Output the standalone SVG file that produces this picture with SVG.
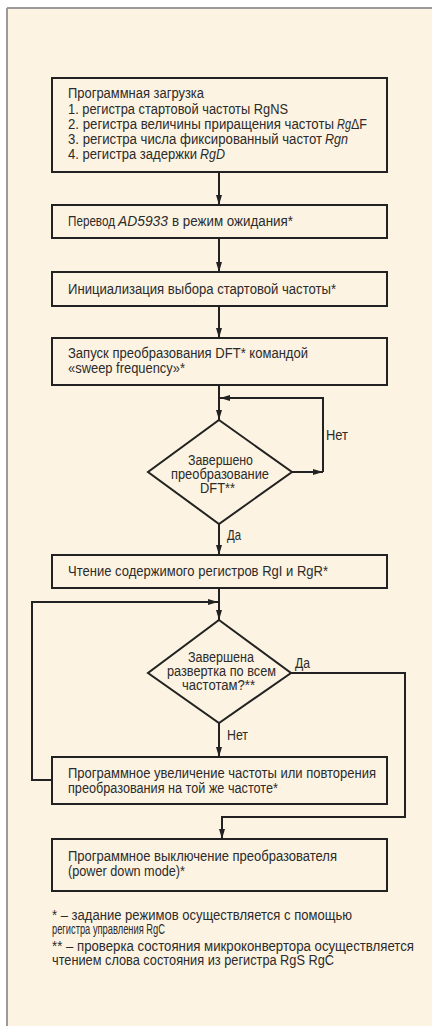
<svg xmlns="http://www.w3.org/2000/svg" width="432" height="1026" viewBox="0 0 432 1026">
<defs>
<marker id="ah" viewBox="0 0 10 6" refX="10" refY="3" markerWidth="10" markerHeight="6" orient="auto" markerUnits="userSpaceOnUse">
<path d="M0,0 L10,3 L0,6 z" fill="#222"/>
</marker>
<style>
.box{fill:none;stroke:#222;stroke-width:2}
.ln{fill:none;stroke:#222;stroke-width:2}
text{font-family:"Liberation Sans",Arial,sans-serif;font-size:14px;fill:#2b2b2b}
.it{font-style:italic}
</style>
</defs>
<rect x="0" y="0" width="432" height="1026" fill="#ffffff"/>
<rect x="7" y="8" width="430" height="1030" fill="#fdf3e2"/>
<line x1="7" y1="8" x2="432" y2="8" stroke="#9a9a9a" stroke-width="2"/>
<line x1="7" y1="8" x2="7" y2="1026" stroke="#9a9a9a" stroke-width="2"/>

<g id="connectors">
<line class="ln" x1="219" y1="172" x2="219" y2="205" marker-end="url(#ah)"/>
<line class="ln" x1="219" y1="238" x2="219" y2="272" marker-end="url(#ah)"/>
<line class="ln" x1="219" y1="306" x2="219" y2="338" marker-end="url(#ah)"/>
<line class="ln" x1="219" y1="385" x2="219" y2="420" marker-end="url(#ah)"/>
<line class="ln" x1="292" y1="472" x2="323" y2="472" marker-end="url(#ah)"/>
<polyline class="ln" points="323,472 323,398 220,398" marker-end="url(#ah)"/>
<line class="ln" x1="219" y1="524" x2="219" y2="555" marker-end="url(#ah)"/>
<line class="ln" x1="219" y1="588" x2="219" y2="620" marker-end="url(#ah)"/>
<polyline class="ln" points="52,780 32,780 32,602 218,602" marker-end="url(#ah)"/>
<line class="ln" x1="219" y1="723" x2="219" y2="757" marker-end="url(#ah)"/>
<polyline class="ln" points="291,673 405,673 405,817 222,817 222,839" marker-end="url(#ah)"/>
<text x="326" y="440" textLength="22" lengthAdjust="spacingAndGlyphs">Нет</text>
<text x="227" y="540" textLength="14" lengthAdjust="spacingAndGlyphs">Да</text>
<text x="295" y="668" textLength="15" lengthAdjust="spacingAndGlyphs">Да</text>
<text x="227" y="740" textLength="21" lengthAdjust="spacingAndGlyphs">Нет</text>
</g>

<g id="n1">
<rect class="box" x="52" y="78" width="335" height="94"/>
<text x="68" y="98" textLength="136" lengthAdjust="spacingAndGlyphs">Программная загрузка</text>
<text x="68" y="114" textLength="220" lengthAdjust="spacingAndGlyphs">1. регистра стартовой частоты RgNS</text>
<text x="68" y="129" textLength="266" lengthAdjust="spacingAndGlyphs">2. регистра величины приращения частоты</text>
<text class="it" x="337" y="129" textLength="14" lengthAdjust="spacingAndGlyphs">Rg</text>
<text x="351" y="129" textLength="16" lengthAdjust="spacingAndGlyphs">ΔF</text>
<text x="68" y="144" textLength="254" lengthAdjust="spacingAndGlyphs">3. регистра числа фиксированный частот</text>
<text class="it" x="325" y="144" textLength="23" lengthAdjust="spacingAndGlyphs">Rgn</text>
<text x="68" y="159" textLength="129" lengthAdjust="spacingAndGlyphs">4. регистра задержки</text>
<text class="it" x="200" y="159" textLength="25" lengthAdjust="spacingAndGlyphs">RgD</text>
</g>
<g id="n2">
<rect class="box" x="52" y="205" width="335" height="33"/>
<text x="68" y="226" textLength="47" lengthAdjust="spacingAndGlyphs">Перевод</text>
<text class="it" x="118" y="226" textLength="50" lengthAdjust="spacingAndGlyphs">AD5933</text>
<text x="172" y="226" textLength="121" lengthAdjust="spacingAndGlyphs">в режим ожидания*</text>
</g>
<g id="n3">
<rect class="box" x="52" y="272" width="335" height="34"/>
<text x="68" y="294" textLength="268" lengthAdjust="spacingAndGlyphs">Инициализация выбора стартовой частоты*</text>
</g>
<g id="n4">
<rect class="box" x="52" y="338" width="335" height="47"/>
<text x="68" y="358" textLength="240" lengthAdjust="spacingAndGlyphs">Запуск преобразования DFT* командой</text>
<text x="68" y="373" textLength="117" lengthAdjust="spacingAndGlyphs">«sweep frequency»*</text>
</g>
<g id="d1">
<polygon class="box" points="219,420 292,472 219,524 148,472"/>
<text x="188" y="465" textLength="65" lengthAdjust="spacingAndGlyphs">Завершено</text>
<text x="171" y="479" textLength="98" lengthAdjust="spacingAndGlyphs">преобразование</text>
<text x="200" y="493" textLength="35" lengthAdjust="spacingAndGlyphs">DFT**</text>
</g>
<g id="n5">
<rect class="box" x="52" y="555" width="335" height="33"/>
<text x="68" y="576" textLength="260" lengthAdjust="spacingAndGlyphs">Чтение содержимого регистров RgI и RgR*</text>
</g>
<g id="d2">
<polygon class="box" points="219,620 291,673 219,723 148,673"/>
<text x="188" y="662" textLength="66" lengthAdjust="spacingAndGlyphs">Завершена</text>
<text x="167" y="676" textLength="109" lengthAdjust="spacingAndGlyphs">развертка по всем</text>
<text x="182" y="690" textLength="73" lengthAdjust="spacingAndGlyphs">частотам?**</text>
</g>
<g id="n6">
<rect class="box" x="52" y="757" width="335" height="47"/>
<text x="68" y="778" textLength="308" lengthAdjust="spacingAndGlyphs">Программное увеличение частоты или повторения</text>
<text x="68" y="793" textLength="210" lengthAdjust="spacingAndGlyphs">преобразования на той же частоте*</text>
</g>
<g id="n7">
<rect class="box" x="52" y="839" width="335" height="52"/>
<text x="68" y="861" textLength="269" lengthAdjust="spacingAndGlyphs">Программное выключение преобразователя</text>
<text x="68" y="876" textLength="117" lengthAdjust="spacingAndGlyphs">(power down mode)*</text>
</g>
<g id="notes">
<text x="52" y="920" textLength="300" lengthAdjust="spacingAndGlyphs">* – задание режимов осуществляется с помощью</text>
<text x="52" y="934" textLength="113" lengthAdjust="spacingAndGlyphs">регистра управления RgC</text>
<text x="52" y="951" textLength="362" lengthAdjust="spacingAndGlyphs">** – проверка состояния микроконвертора осуществляется</text>
<text x="52" y="965" textLength="282" lengthAdjust="spacingAndGlyphs">чтением слова состояния из регистра RgS RgC</text>
</g>
</svg>
